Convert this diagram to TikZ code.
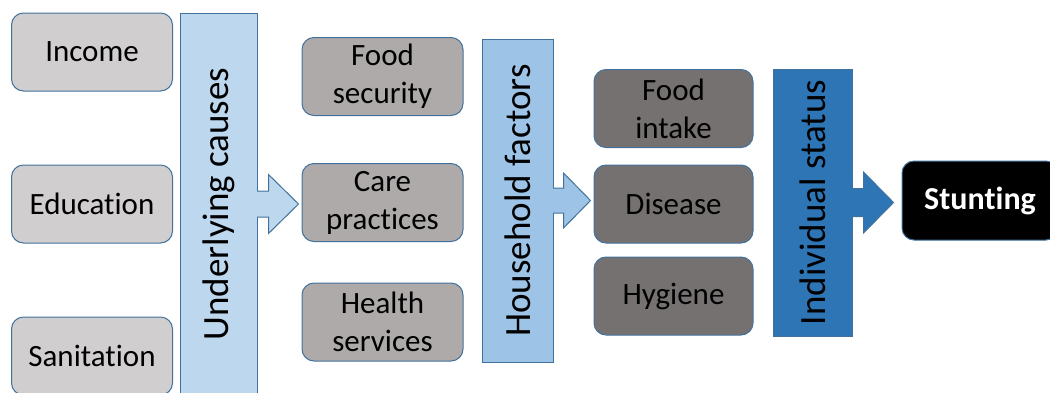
\documentclass[tikz,border=0pt]{standalone}
\usepackage{fontspec}
\setmainfont[RawFeature=-liga]{Carlito}
\usetikzlibrary{calc}

\definecolor{edgeblue}{HTML}{41719C}
\definecolor{greyone}{HTML}{D0CECE}
\definecolor{greytwo}{HTML}{AEAAAA}
\definecolor{greythree}{HTML}{767171}
\definecolor{blueone}{HTML}{BDD7EE}
\definecolor{bluetwo}{HTML}{9DC3E6}
\definecolor{bluethree}{HTML}{2E75B6}

\begin{document}
\begin{tikzpicture}[x=1pt,y=-1pt,
    box/.style={draw=edgeblue,line width=1pt,rounded corners=12pt,inner sep=0pt,
      minimum width=161pt,minimum height=78pt,align=center,
      font=\fontsize{31}{38}\selectfont},
    bar/.style={draw=edgeblue,line width=1pt,inner sep=0pt,
      font=\fontsize{37}{42}\selectfont},
    blockarrow/.style={draw=edgeblue,line width=1pt,line join=miter}]
  \useasboundingbox (0,0) rectangle (1050,392);
  \clip (0,0) rectangle (1050,392);
  % first column
  \node[box,fill=greyone] (income) at (92,52) {Income};
  \node[box,fill=greyone] (educ) at (92,204) {Education};
  \node[box,fill=greyone] (sanit) at (92,356) {Sanitation};
  \node[bar,fill=blueone,minimum width=77pt,minimum height=382pt] (under) at (218.5,204) {\rotatebox{90}{Underlying causes}};
  \path[blockarrow,fill=blueone] ($(under.east)+(-0.5,-13)$) -- ++(11.5,0) -- ++(0,-16.5)
    -- ($(under.east)+(41,0)$) -- ($(under.east)+(11,29.5)$) -- ++(0,-16.5) -- ++(-11.5,0);
  % second column
  \node[box,fill=greytwo] (foodsec) at (382.5,76.5) {Food\\security};
  \node[box,fill=greytwo] (care) at (382.5,202.5) {Care\\practices};
  \node[box,fill=greytwo] (health) at (382.5,322) {Health\\services};
  \node[bar,fill=bluetwo,minimum width=71pt,minimum height=323pt] (house) at (517.5,200.5) {\rotatebox{90}{Household factors}};
  \path[blockarrow,fill=bluetwo] ($(house.east)+(-0.5,-12.5)$) -- ++(10.5,0) -- ++(0,-15)
    -- ($(house.east)+(37,0)$) -- ($(house.east)+(10,27.5)$) -- ++(0,-15) -- ++(-10.5,0);
  % third column
  \node[box,fill=greythree,minimum width=159pt] (intake) at (673.5,108.5) {Food\\intake};
  \node[box,fill=greythree,minimum width=159pt] (disease) at (673.5,204) {Disease};
  \node[box,fill=greythree,minimum width=159pt] (hygiene) at (673.5,296) {Hygiene};
  \node[bar,fill=bluethree,minimum width=79pt,minimum height=267pt] (indiv) at (812.5,202.5) {\rotatebox{90}{Individual status}};
  \path[blockarrow,fill=bluethree] ($(indiv.east)+(-0.5,-14)$) -- ++(11.5,0) -- ++(0,-16.5)
    -- ($(indiv.east)+(41,0)$) -- ($(indiv.east)+(11,30.5)$) -- ++(0,-16.5) -- ++(-11.5,0);
  % outcome
  \node[box,fill=black,text=white,minimum width=156pt,minimum height=79pt,font=\fontsize{32}{38}\selectfont\bfseries] (stunt) at (980,200.5) {Stunting};
\end{tikzpicture}
\end{document}
